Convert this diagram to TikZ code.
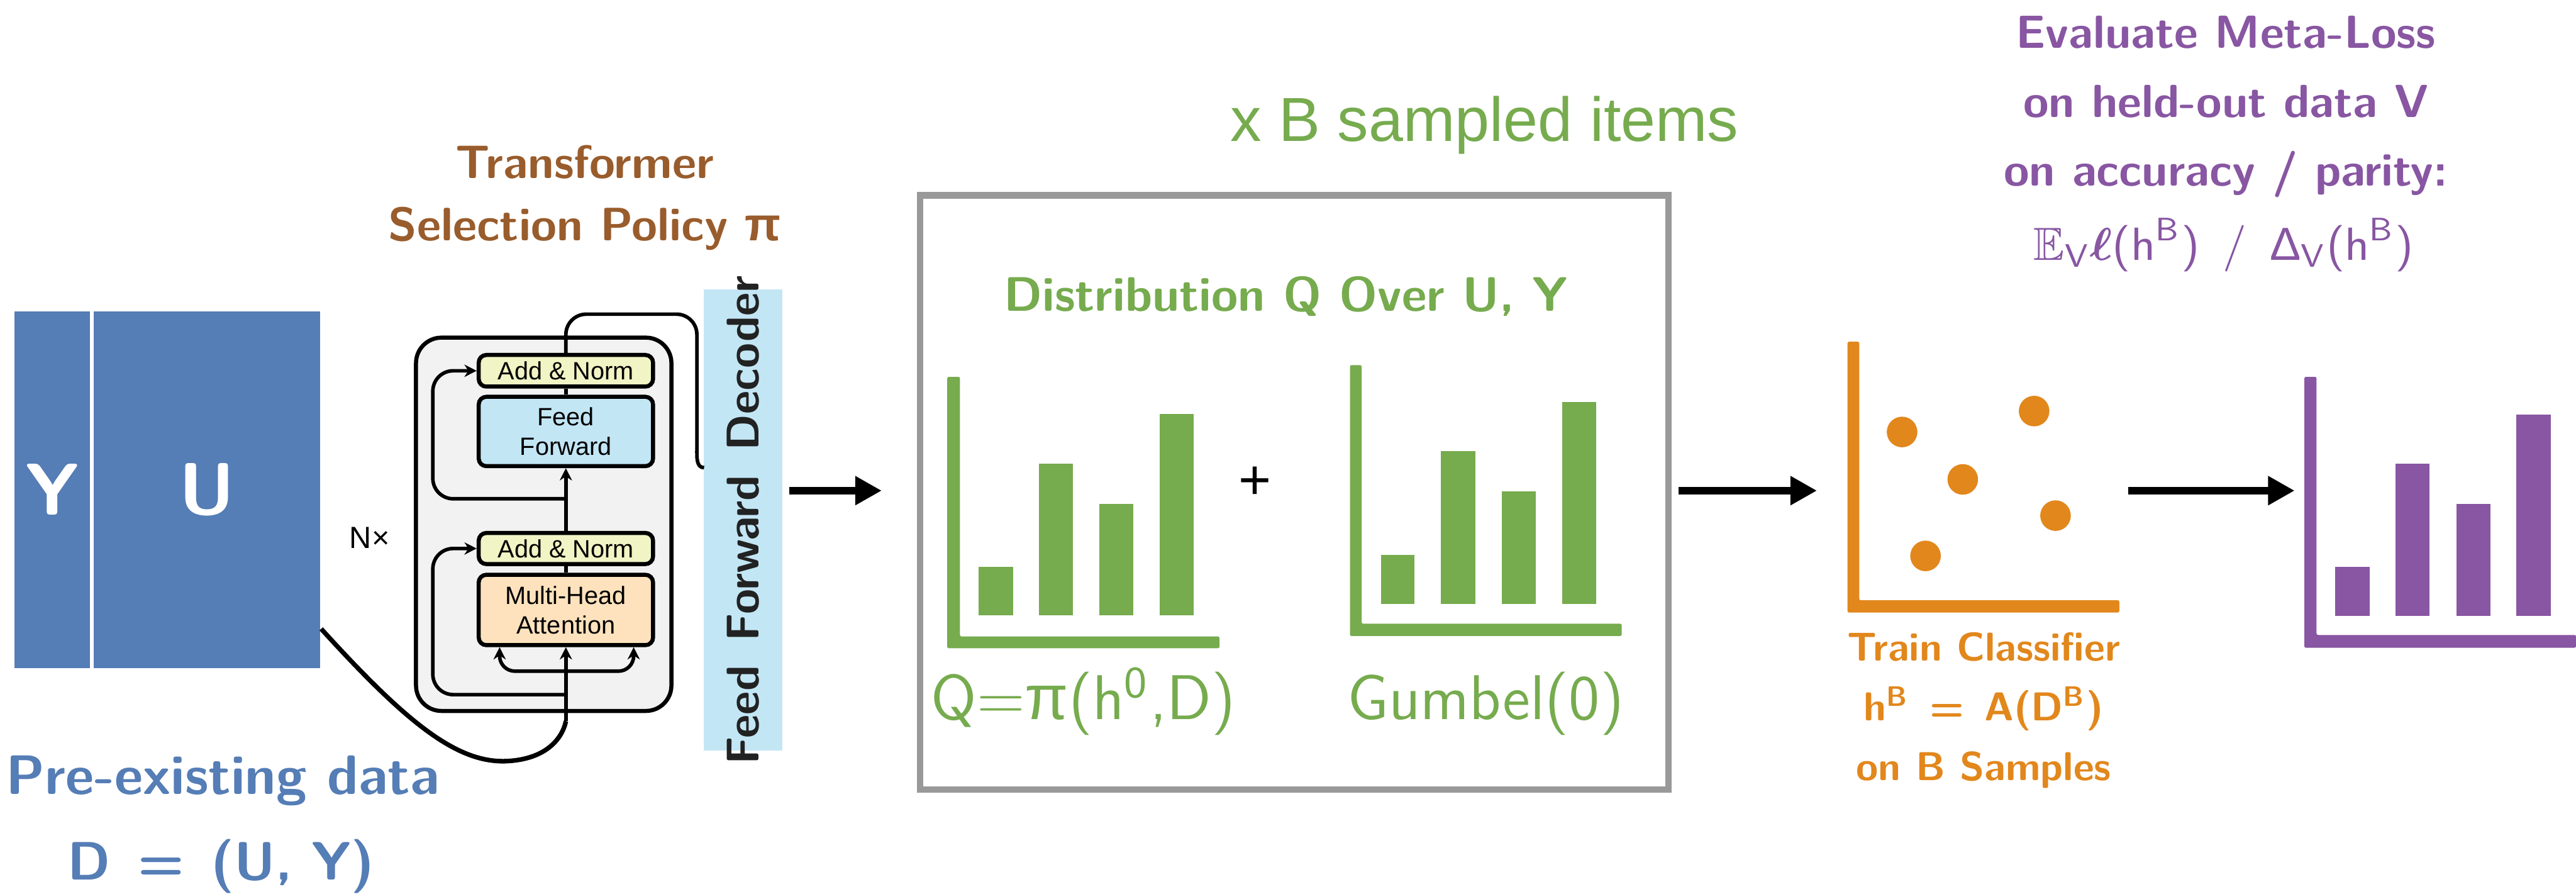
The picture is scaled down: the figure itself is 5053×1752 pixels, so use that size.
\documentclass[tikz,border=0pt]{standalone}
\usepackage{fontspec}
\usepackage{amsmath,amssymb}
\usetikzlibrary{arrows.meta,fit}
\newfontfamily\arialfont{Liberation Sans}
\newcommand\fsz[1]{\fontsize{#1}{#1}\selectfont}
\definecolor{myblue}{HTML}{557DB6}
\definecolor{mybrown}{HTML}{995C2C}
\definecolor{mygreen}{HTML}{76AB4E}
\definecolor{myorange}{HTML}{E2871C}
\definecolor{mypurple}{HTML}{8856A2}
\definecolor{mygray}{HTML}{999999}
\definecolor{declight}{HTML}{C3E6F5}
\definecolor{annyellow}{HTML}{F1F4C4}
\definecolor{mhapeach}{HTML}{FDE2BD}
\definecolor{boxgray}{HTML}{F2F2F2}
\definecolor{dectext}{HTML}{222222}
\tikzset{
  bigarrow/.style={line width=1.4pt, -{Triangle[length=5.2pt,width=5.4pt]}},
  tarrow/.style={line width=0.7pt, -{Stealth[length=2.4pt,width=2.4pt]}},
  tline/.style={line width=0.7pt},
  tblock/.style={draw, line width=0.8pt, rounded corners=1.5pt, inner sep=0pt,
    minimum width=34.2pt, font=\arialfont\fontsize{4.9pt}{5.8pt}\selectfont, align=center},
  lbl/.style={anchor=base, inner sep=0pt},
  area/.style={inner sep=0pt},
}
\begin{document}
\begin{tikzpicture}[x=0.1pt,y=-0.1pt]
\useasboundingbox (0,0) rectangle (5053,1752);

% ---------- pre-existing data ----------
\node[area, fit={(28,610) (177,1310)}, fill=myblue] (yblk) {};
\node[area, fit={(184,610) (628,1310)}, fill=myblue] (ublk) {};
\node[inner sep=0pt, font=\sffamily\bfseries\fsz{14.4pt}, text=white] (ylab) at (yblk.center) {Y};
\node[inner sep=0pt, font=\sffamily\bfseries\fsz{14.4pt}, text=white] (ulab) at (ublk.center) {U};
\node[lbl, font=\sffamily\bfseries\fsz{10.9pt}, text=myblue] (pre) at (437,1558) {Pre-existing data};
\node[lbl, font=\sffamily\bfseries\fsz{10.6pt}, text=myblue] (dd) at (434,1725) {D\enspace=\enspace(U, Y)};

% ---------- transformer ----------
\node[lbl, font=\sffamily\bfseries\fsz{9.2pt}, text=mybrown] (tt1) at (1147,350) {Transformer};
\node[lbl, font=\sffamily\bfseries\fsz{9.2pt}, text=mybrown] (tt2) at (1147,472) {Selection Policy {\arialfont\bfseries π}};
\node[inner sep=0pt, font=\arialfont\fsz{6pt}] (nx) at (725,1054) {N×};

\node[area, fit={(816,662) (1317,1394)}, draw, line width=0.8pt, rounded corners=5pt, fill=boxgray] (tbox) {};

\node[tblock, fill=annyellow, minimum height=6.2pt] (an2) at (1110,727) {Add \& Norm};
\node[tblock, fill=declight, minimum height=13.6pt] (ff) at (1110,846) {Feed\\Forward};
\node[tblock, fill=annyellow, minimum height=6.1pt] (an1) at (1110,1075.5) {Add \& Norm};
\node[tblock, fill=mhapeach, minimum height=13.8pt] (mha) at (1110,1196) {Multi-Head\\Attention};

\node[area, fit={(1381,568) (1535,1472)}, fill=declight] (dec) {};
\node[rotate=90, inner sep=0pt, font=\sffamily\bfseries\fsz{9pt}, text=dectext] (dect) at (dec.center) {Feed\, Forward\, Decoder};

\coordinate (inp) at (1110,1414);
\coordinate (decin) at (1381,917);
\draw[tarrow] (inp) -- (mha.south);
\draw[tarrow, rounded corners=3pt] (1110,1316) -| ([xshift=4.5pt]mha.south west);
\draw[tarrow, rounded corners=3pt] (1110,1316) -| ([xshift=-4.2pt]mha.south east);
\draw[tarrow, rounded corners=4pt] (1110,1362) -| (849,1075.5) -- (an1.west);
\draw[tline] (mha.north) -- (an1.south);
\draw[tarrow] (an1.north) -- (ff.south);
\draw[tarrow, rounded corners=4pt] (1110,978) -| (849,727) -- (an2.west);
\draw[tline] (ff.north) -- (an2.south);
\draw[tline, rounded corners=4pt] (an2.north) -- (1110,616) -- (1367,616) -- (1367,880);
\draw[tline] (1367,879) to[out=-90,in=180] (decin);

\draw[line width=0.9pt] ([yshift=7.9pt]ublk.south east) .. controls (800,1420) and (900,1500) .. (1000,1492) .. controls (1080,1486) and (1105,1440) .. (inp);

% ---------- sampling box ----------
\node[lbl, font=\arialfont\fsz{12.2pt}, text=mygreen] (xb) at (2912,277) {x B sampled items};
\node[area, fit={(1805,383) (3273,1548)}, draw=mygray, line width=1.3pt] (gbox) {};
\node[lbl, font=\sffamily\bfseries\fsz{9.5pt}, text=mygreen] (dist) at (2522,610) {Distribution Q Over U, Y};

\node[area, fit={(1858,739) (2392,1271)}] (lchart) {};
\node[area, fit={(2648,716) (3181,1247)}] (rchart) {};
\fill[mygreen, rounded corners=0.3pt] (1858,739) -- (1883,739) -- (1883,1248) -- (2392,1248) -- (2392,1271) -- (1858,1271) -- cycle;
\fill[mygreen] (1920,1112) rectangle (1987,1207);
\fill[mygreen] (2038,909) rectangle (2104,1207);
\fill[mygreen] (2156,988) rectangle (2223,1207);
\fill[mygreen] (2275,812) rectangle (2342,1207);
\fill[mygreen, rounded corners=0.3pt] (2648,716) -- (2671,716) -- (2671,1223) -- (3181,1223) -- (3181,1247) -- (2648,1247) -- cycle;
\fill[mygreen] (2709,1088) rectangle (2775,1184);
\fill[mygreen] (2826,885) rectangle (2894,1184);
\fill[mygreen] (2946,964) rectangle (3012,1184);
\fill[mygreen] (3064,788) rectangle (3131,1184);
\node[inner sep=0pt, font=\arialfont\fsz{11pt}] (plus) at (2462,947) {+};
\node[lbl, font=\sffamily\fsz{12.4pt}, text=mygreen] (qlab) at (lchart.south |- 0,1411) {Q={\arialfont π}(h\textsuperscript{0},D)};
\node[lbl, font=\sffamily\fsz{12.4pt}, text=mygreen] (glab) at (rchart.south |- 0,1411) {Gumbel(0)};

% ---------- classifier ----------
\node[area, fit={(3624,670) (4157,1201)}] (oplot) {};
\fill[myorange, rounded corners=0.3pt] (3624,670) -- (3647,670) -- (3647,1177) -- (4157,1177) -- (4157,1201) -- (3624,1201) -- cycle;
\fill[myorange] (3731,847) circle (3pt);
\fill[myorange] (3990,806) circle (3pt);
\fill[myorange] (3850,940) circle (3pt);
\fill[myorange] (4032,1011) circle (3pt);
\fill[myorange] (3777,1090) circle (3pt);
\node[lbl, font=\sffamily\bfseries\fsz{7.9pt}, text=myorange] (tc1) at (3891,1296) {Train Classifier};
\node[lbl, font=\sffamily\bfseries\fsz{7.9pt}, text=myorange] (tc2) at (3891,1413) {h\textsuperscript{B}\enspace=\enspace A(D\textsuperscript{B})};
\node[lbl, font=\sffamily\bfseries\fsz{7.9pt}, text=myorange] (tc3) at (3891,1530) {on B Samples};

% ---------- meta-loss ----------
\node[area, fit={(4520,739) (5053,1270)}] (pplot) {};
\fill[mypurple, rounded corners=0.3pt] (4520,739) -- (4544,739) -- (4544,1245) -- (5053,1245) -- (5053,1270) -- (4520,1270) -- cycle;
\fill[mypurple] (4581,1112) rectangle (4648,1208);
\fill[mypurple] (4699,909) rectangle (4766,1208);
\fill[mypurple] (4818,988) rectangle (4885,1208);
\fill[mypurple] (4936,813) rectangle (5003,1208);
\node[lbl, font=\sffamily\bfseries\fsz{9.1pt}, text=mypurple] (ev1) at (4366,94) {Evaluate Meta-Loss};
\node[lbl, font=\sffamily\bfseries\fsz{9.1pt}, text=mypurple] (ev2) at (4366,230) {on held-out data V};
\node[lbl, font=\sffamily\bfseries\fsz{9.1pt}, text=mypurple] (ev3) at (4366,364) {on accuracy / parity:};
\node[lbl, font=\sffamily\fsz{9.1pt}, text=mypurple] (ev4) at (4362,510) {$\mathbb{E}_{\textsf{V}}\boldsymbol{\ell}$(h\textsuperscript{B})\enspace/\enspace{\arialfont Δ}$_{\textsf{V}}$(h\textsuperscript{B})};

% ---------- arrows ----------
\coordinate (ay) at (0,962);
\draw[bigarrow, shorten <=1.1pt, shorten >=6.9pt] (dec.east |- ay) -- (gbox.west |- ay);
\draw[bigarrow, shorten <=1.3pt, shorten >=5.8pt] (gbox.east |- ay) -- (oplot.west |- ay);
\draw[bigarrow, shorten <=1.6pt, shorten >=1.7pt] (oplot.east |- ay) -- (pplot.west |- ay);
\end{tikzpicture}
\end{document}
